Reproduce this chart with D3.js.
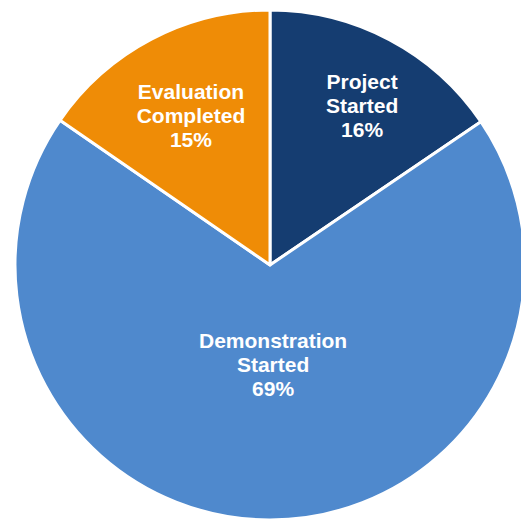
<!DOCTYPE html>
<html>
<head>
<meta charset="utf-8">
<script src="https://cdn.jsdelivr.net/npm/d3@7"></script>
<style>
	body { margin: 0; background: white; }
	svg text { font-family: "Liberation Sans", Arial, sans-serif; font-weight: bold; }
</style>
</head>
<body>
<svg id="chart" width="521" height="527"></svg>
<script>
var categories = [["Project", "Started"], ["Demonstration", "Started"], ["Evaluation", "Completed"]];
var values = [15.5, 69.1, 15.4];
var colors = ["#153d71", "#4f89cd", "#ef8c06"];

var cx = 270, cy = 265, radius = 255;
// label anchor per slice, as a share of the radius (x right, y down)
var labelPos = [[0.361, -0.624], [0.012, 0.392], [-0.31, -0.584]];

var svg = d3.select("#chart");
var g = svg.append("g").attr("transform", "translate(" + cx + "," + cy + ")");

var pie = d3.pie().sort(null).value(function(d) { return d; });
var arcs = pie(values);

var arc = d3.arc().innerRadius(0).outerRadius(radius);

g.selectAll("path.slice")
	.data(arcs)
	.enter().append("path")
	.attr("class", "slice")
	.attr("d", arc)
	.attr("fill", function(d, i) { return colors[i]; })
	.attr("stroke", "white")
	.attr("stroke-width", 3)
	.attr("stroke-linejoin", "round");

var labels = g.selectAll("text.label")
	.data(arcs)
	.enter().append("text")
	.attr("class", "label")
	.attr("text-anchor", "middle")
	.attr("fill", "white")
	.attr("font-size", "21px")
	.attr("transform", function(d, i) {
		return "translate(" + (radius * labelPos[i][0]) + "," + (radius * labelPos[i][1]) + ")";
	});

labels.each(function(d, i) {
	var t = d3.select(this);
	var lines = categories[i].concat([Math.round(values[i]) + "%"]);
	lines.forEach(function(s, k) {
		t.append("tspan")
			.attr("x", 0)
			.attr("y", (k - 1) * 24 + 7)
			.text(s);
	});
});
</script>
</body>
</html>
